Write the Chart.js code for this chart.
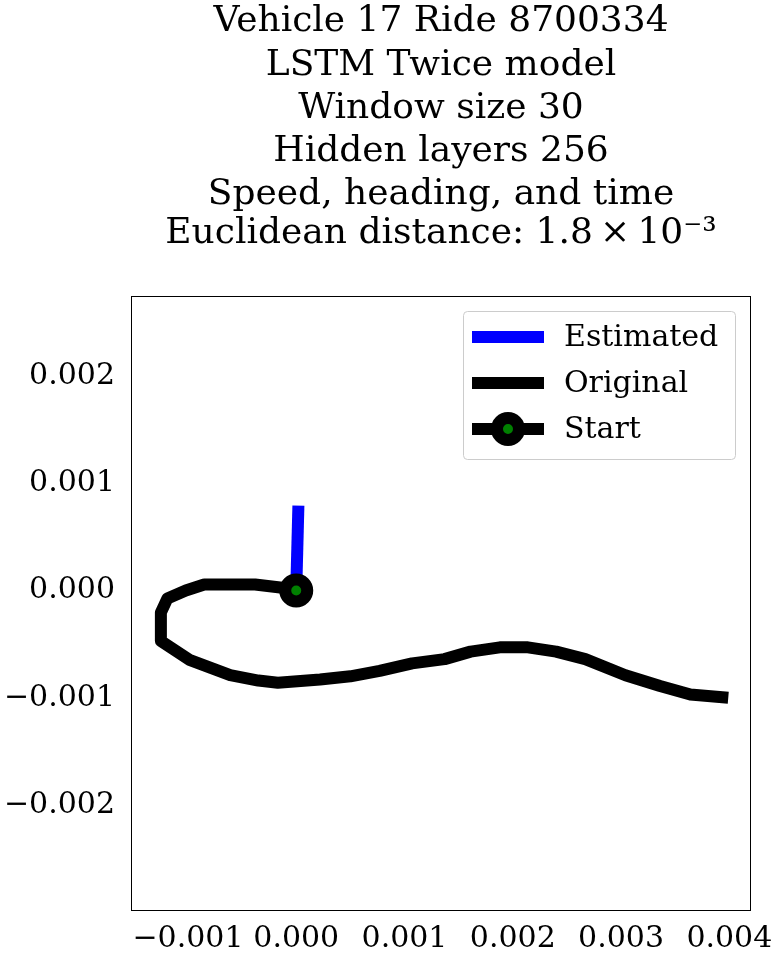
<!DOCTYPE html>
<html>
<head>
<meta charset="utf-8">
<script src="https://cdn.jsdelivr.net/npm/chart.js@4"></script>
<style>
  body { margin: 0; background: #fff; }
  #wrap { width: 780px; height: 958px; }
</style>
</head>
<body>
<div id="wrap"><canvas id="myChart"></canvas></div>
<script>
var titleLines = ["Vehicle 17 Ride 8700334", "LSTM Twice model", "Window size 30",
  "Hidden layers 256", "Speed, heading, and time", "Euclidean distance: 1.8\u2009\u00d7\u200910\u207b\u00b3"];

// original trajectory
var origX = [0, -0.000148, -0.00038, -0.00061, -0.00085, -0.00102, -0.00119, -0.00125, -0.00125, -0.00125,
  -0.00098, -0.00061, -0.00035, -0.00017, 0.00022, 0.0005, 0.00077, 0.00107, 0.00137, 0.00161,
  0.00188, 0.00214, 0.0024, 0.00267, 0.00304, 0.00336, 0.00364, 0.00399];
var origY = [0, 0.000028, 0.000056, 0.000056, 0.000056, 0, -0.000075, -0.000205, -0.00033, -0.00047,
  -0.00065, -0.00079, -0.00084, -0.00086, -0.00083, -0.0008, -0.00075, -0.00068, -0.00064, -0.00057,
  -0.00053, -0.00053, -0.00057, -0.00064, -0.00079, -0.00089, -0.00097, -0.001];
// estimated trajectory
var estX = [0, 0.00002];
var estY = [0, 0.00079];

var xTicks = [-0.001, 0, 0.001, 0.002, 0.003, 0.004];
var yTicks = [-0.002, -0.001, 0, 0.001, 0.002];

var legendLabels = ["Estimated", "Original", "Start"];

function pts(xs, ys) {
  return xs.map(function (x, i) { return { x: x, y: ys[i] }; });
}
function fmt(v) { return v.toFixed(3).replace("-", "\u2212"); }

var FONT = "'DejaVu Serif', serif";

var deco = {
  id: 'deco',
  afterDraw: function (chart) {
    var c = chart.ctx, a = chart.chartArea;
    c.save();
    // frame
    c.strokeStyle = '#000'; c.lineWidth = 1;
    c.strokeRect(a.left + 0.5, a.top + 0.5, a.right - a.left - 1, a.bottom - a.top - 1);
    // title
    c.fillStyle = '#000';
    c.font = '36px ' + FONT;
    c.textAlign = 'center'; c.textBaseline = 'middle';
    var cx = (a.left + a.right) / 2;
    var ys = [22, 66, 109, 152, 195, 234];
    titleLines.forEach(function (t, i) { c.fillText(t, cx, ys[i]); });
    // legend
    c.fillStyle = '#fff'; c.strokeStyle = '#ccc'; c.lineWidth = 1;
    c.beginPath();
    c.roundRect(463.5, 311.5, 272, 148, 4);
    c.fill(); c.stroke();
    var rows = [337, 383, 429], cols = ['#0000ff', '#000', '#000'];
    c.font = '30px ' + FONT; c.textAlign = 'left';
    rows.forEach(function (y, i) {
      c.strokeStyle = cols[i]; c.lineWidth = 12; c.lineCap = 'butt';
      c.beginPath(); c.moveTo(472, y); c.lineTo(544, y); c.stroke();
      if (i === 2) {
        c.beginPath(); c.arc(508, y, 11, 0, Math.PI * 2);
        c.fillStyle = 'green'; c.fill();
        c.lineWidth = 12; c.strokeStyle = '#000'; c.stroke();
      }
      c.fillStyle = '#000';
      c.fillText(legendLabels[i], 564, y + 1);
    });
    c.restore();
  }
};

new Chart(document.getElementById('myChart'), {
  type: 'scatter',
  data: {
    datasets: [{
      label: 'Original',
      data: pts(origX, origY),
      showLine: true, borderColor: '#000', borderWidth: 12,
      pointRadius: 0, borderJoinStyle: 'round', order: 3
    }, {
      label: 'Estimated',
      data: pts(estX, estY),
      showLine: true, borderColor: '#0000ff', borderWidth: 12,
      pointRadius: 0, order: 2
    }, {
      label: 'Start',
      data: [{ x: origX[0], y: origY[0] }],
      pointRadius: 11, pointBackgroundColor: 'green', pointBorderColor: '#000',
      pointBorderWidth: 12, order: 1
    }]
  },
  options: {
    responsive: true, maintainAspectRatio: false, animation: false,
    layout: { padding: { top: 296, right: 29, left: 0, bottom: 0 } },
    plugins: { legend: { display: false }, tooltip: { enabled: false } },
    scales: {
      x: {
        min: -0.001526, max: 0.0042,
        grid: { display: false },
        border: { display: false },
        afterBuildTicks: function (s) { s.ticks = xTicks.map(function (v) { return { value: v }; }); },
        afterFit: function (s) { s.height = 47; },
        ticks: { color: '#000', font: { family: FONT, size: 30 }, maxRotation: 0, autoSkip: false, padding: 2,
          callback: function (v) { return fmt(v); } }
      },
      y: {
        min: -0.002988, max: 0.002745,
        grid: { display: false },
        border: { display: false },
        afterBuildTicks: function (s) { s.ticks = yTicks.map(function (v) { return { value: v }; }); },
        afterFit: function (s) { s.width = 131; },
        ticks: { color: '#000', font: { family: FONT, size: 30 }, autoSkip: false, padding: 8,
          callback: function (v) { return fmt(v); } }
      }
    }
  },
  plugins: [deco]
});
</script>
</body>
</html>
